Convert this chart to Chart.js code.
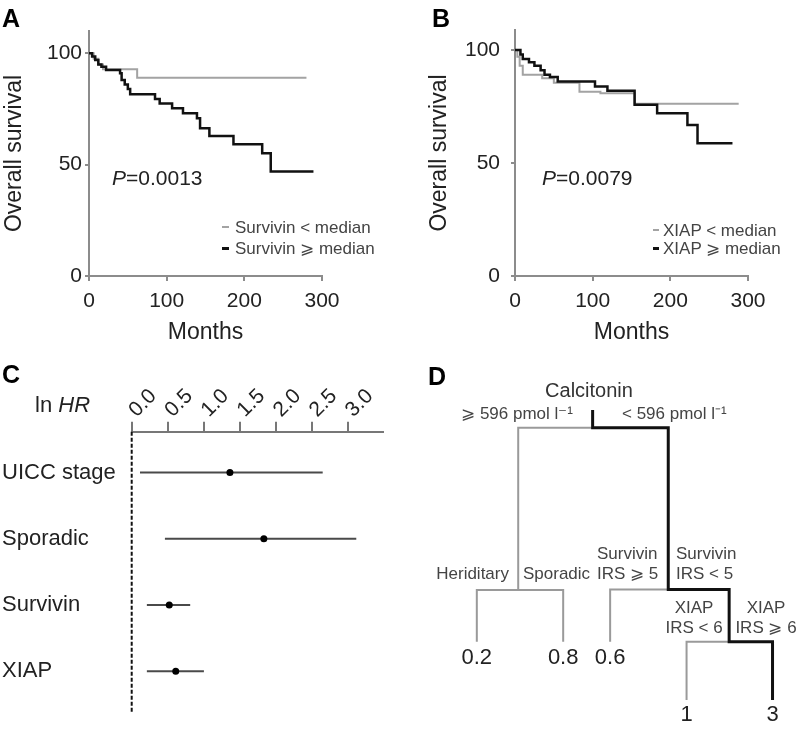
<!DOCTYPE html>
<html>
<head>
<meta charset="utf-8">
<script src="https://cdn.jsdelivr.net/npm/chart.js@4/dist/chart.umd.min.js"></script>
<style>
  body { margin: 0; background: #fff; width: 798px; height: 729px; position: relative; overflow: hidden;
         font-family: "Liberation Sans", Arial, sans-serif; color: #222; }
  canvas { position: absolute; }
  .t { position: absolute; white-space: nowrap; line-height: 1; }
  .c { transform: translate(-50%, -50%); }
  .l { transform: translate(0, -50%); }
  .r { transform: translate(-100%, -50%); }
  .panel { font-weight: bold; font-size: 25px; color: #000; }
  .dash { position: absolute; }
</style>
</head>
<body>
<canvas id="kmA" width="400" height="350" style="left:0;top:0"></canvas>
<canvas id="kmB" width="398" height="350" style="left:400px;top:0"></canvas>
<canvas id="forest" width="400" height="369" style="left:0;top:360px"></canvas>
<canvas id="tree" width="398" height="349" style="left:400px;top:380px"></canvas>

<div class="t panel" style="left:2px;top:6px">A</div>
<div class="t panel" style="left:432px;top:6px">B</div>
<div class="t panel" style="left:2px;top:362px">C</div>
<div class="t panel" style="left:428px;top:364px">D</div>

<div class="t l" style="left:112px;top:177px;font-size:21px"><i>P</i>=0.0013</div>
<div class="t l" style="left:542px;top:177px;font-size:21px"><i>P</i>=0.0079</div>

<div class="dash" style="left:222px;top:226px;width:7px;height:2px;background:#a3a3a3"></div>
<div class="t l" style="left:235px;top:227px;font-size:17px;color:#444">Survivin &lt; median</div>
<div class="dash" style="left:222px;top:247px;width:7px;height:3px;background:#111"></div>
<div class="t l" style="left:235px;top:248px;font-size:17px;color:#444">Survivin ⩾ median</div>

<div class="dash" style="left:653px;top:229px;width:6px;height:2px;background:#a3a3a3"></div>
<div class="t l" style="left:663px;top:230px;font-size:17px;color:#444">XIAP &lt; median</div>
<div class="dash" style="left:653px;top:247px;width:6px;height:3px;background:#111"></div>
<div class="t l" style="left:663px;top:248px;font-size:17px;color:#444">XIAP ⩾ median</div>

<div class="t l" style="left:35px;top:405px;font-size:22px">ln <i>HR</i></div>

<div class="t c" style="left:589px;top:390px;font-size:20px;color:#333">Calcitonin</div>
<div class="t r" style="left:573px;top:413px;font-size:17px;color:#444">⩾ 596 pmol l⁻¹</div>
<div class="t l" style="left:622px;top:413px;font-size:17px;color:#444">&lt; 596 pmol l⁻¹</div>
<div class="t r" style="left:509px;top:573px;font-size:17px;color:#444">Heriditary</div>
<div class="t l" style="left:523px;top:573px;font-size:17px;color:#444">Sporadic</div>
<div class="t l" style="left:597px;top:553px;font-size:17px;color:#444">Survivin</div>
<div class="t l" style="left:597px;top:573px;font-size:17px;color:#444">IRS ⩾ 5</div>
<div class="t l" style="left:676px;top:553px;font-size:17px;color:#444">Survivin</div>
<div class="t l" style="left:676px;top:573px;font-size:17px;color:#444">IRS &lt; 5</div>
<div class="t c" style="left:694px;top:607px;font-size:17px;color:#444">XIAP</div>
<div class="t c" style="left:694px;top:627px;font-size:17px;color:#444">IRS &lt; 6</div>
<div class="t c" style="left:766px;top:607px;font-size:17px;color:#444">XIAP</div>
<div class="t c" style="left:766px;top:627px;font-size:17px;color:#444">IRS ⩾ 6</div>

<script>
// Kaplan-Meier curves: event time (months) and survival (%) after it
const survivinLowMonths = [0, 6, 12, 18, 62, 280];
const survivinLowSurv = [100, 97.5, 95, 92.8, 89, 89];
const survivinHighMonths = [0, 4, 8, 12, 16, 22, 40, 42, 46, 50, 53, 85, 91, 107, 121, 139, 143, 155, 186, 223, 234, 289];
const survivinHighSurv = [100, 98.5, 97, 95, 94, 92.5, 91, 88, 86, 84, 81.6, 79.5, 77.5, 75.3, 73.1, 70.8, 66.3, 62.9, 59.1, 55.1, 46.9, 46.9];

const xiapLowMonths = [0, 3, 6, 10, 35, 50, 83, 110, 154, 288];
const xiapLowSurv = [100, 97, 93, 89, 87.5, 85.5, 81.5, 80.8, 76.2, 76.2];
const xiapHighMonths = [0, 7, 10, 18, 25, 33, 38, 45, 55, 103, 119, 154, 183, 222, 235, 280];
const xiapHighSurv = [100, 98, 96, 94.5, 93, 91, 89, 88, 86, 83.8, 81.9, 75.7, 72, 66.8, 58.7, 58.7];

const monthTicks = [0, 100, 200, 300];
const survivalTicks = [0, 50, 100];

// Cox model: ln HR with interval
const hrRows = ['UICC stage', 'Sporadic', 'Survivin', 'XIAP'];
const lnHR = [1.36, 1.83, 0.52, 0.61];
const lnHRLow = [0.115, 0.46, 0.21, 0.21];
const lnHRHigh = [2.645, 3.11, 0.81, 1.0];
const lnHRTicks = [0, 0.5, 1, 1.5, 2, 2.5, 3];

// regression tree, node coordinates in tree units (0-100 across, 0-100 down)
const treeGrayPaths = [
  [[48.4, 13.7], [29.7, 13.7], [29.7, 60.2]],
  [[19.3, 75], [19.3, 60.2], [41, 60.2], [41, 75]],
  [[52.8, 75], [52.8, 60], [67.4, 60]],
  [[72, 91.7], [72, 75], [82.7, 75]]
];
const treeBlackPath = [[48.4, 8.6], [48.4, 13.7], [67.4, 13.7], [67.4, 60], [82.7, 60], [82.7, 75], [93.6, 75], [93.6, 91.7]];
const leafValues = ['0.2', '0.8', '0.6', '1', '3'];
const leafX = [19.3, 41, 52.8, 72, 93.6];
const leafY = [79.7, 79.7, 79.7, 96, 96];

const FONT = '"Liberation Sans", Arial, sans-serif';
const axisGray = '#8c8c8c';
const pts = (xs, ys) => xs.map((v, i) => ({x: v, y: ys[i]}));

function kmChart(id, lowM, lowS, highM, highS, pad, yWidth, yMax, tickPad) {
    return new Chart(document.getElementById(id), {
        type: 'scatter',
        data: {
            datasets: [
                {data: pts(highM, highS), showLine: true, stepped: 'before', borderColor: '#111', borderWidth: 2.5, pointRadius: 0},
                {data: pts(lowM, lowS), showLine: true, stepped: 'before', borderColor: '#a3a3a3', borderWidth: 2, pointRadius: 0}
            ]
        },
        options: {
            responsive: false,
            animation: false,
            layout: {padding: pad},
            plugins: {legend: {display: false}, tooltip: {enabled: false}},
            scales: {
                x: {
                    type: 'linear', min: 0, max: 300,
                    afterBuildTicks: s => { s.ticks = monthTicks.map(v => ({value: v})); },
                    afterFit: s => { s.height = 74; },
                    grid: {drawOnChartArea: false, tickLength: 5, color: axisGray, lineWidth: 2},
                    border: {color: axisGray, width: 2},
                    ticks: {font: {size: 21, family: FONT}, color: '#222', padding: 8, maxRotation: 0},
                    title: {display: true, text: 'Months', font: {size: 23, family: FONT}, color: '#222', padding: {top: 0, bottom: 4}}
                },
                y: {
                    min: 0, max: yMax,
                    afterBuildTicks: s => { s.ticks = survivalTicks.map(v => ({value: v})); },
                    afterFit: s => { s.width = yWidth; },
                    grid: {drawOnChartArea: false, tickLength: 4, color: axisGray, lineWidth: 2},
                    border: {color: axisGray, width: 2},
                    ticks: {font: {size: 21, family: FONT}, color: '#222', padding: tickPad},
                    title: {display: true, text: 'Overall survival', font: {size: 23, family: FONT}, color: '#222', padding: {top: 1, bottom: 0}}
                }
            }
        }
    });
}

kmChart('kmA', survivinLowMonths, survivinLowSurv, survivinHighMonths, survivinHighSurv,
    {left: 0, top: 31, right: 78, bottom: 0}, 89, 110, 3);
kmChart('kmB', xiapLowMonths, xiapLowSurv, xiapHighMonths, xiapHighSurv,
    {left: 25, top: 30, right: 50, bottom: 0}, 90, 108.8, 11);

// forest plot: slanted tick labels written above the top axis
const slantedTicks = {
    id: 'slantedTicks',
    afterDraw(chart) {
        const {ctx, scales: {x}} = chart;
        ctx.save();
        ctx.font = '21px ' + FONT;
        ctx.fillStyle = '#222';
        ctx.textAlign = 'left';
        ctx.textBaseline = 'alphabetic';
        lnHRTicks.forEach(v => {
            ctx.save();
            ctx.translate(x.getPixelForValue(v) + 5, x.bottom - 14);
            ctx.rotate(-Math.PI / 4);
            ctx.fillText(v.toFixed(1), 0, 0);
            ctx.restore();
        });
        ctx.restore();
    }
};

const yMinC = 0.384, yMaxC = 4.626;
new Chart(document.getElementById('forest'), {
    type: 'scatter',
    data: {
        datasets: [
            {data: hrRows.map((r, i) => ({x: lnHR[i], y: i + 1})), pointRadius: 3.5, pointBackgroundColor: '#000', pointBorderWidth: 0},
            ...hrRows.map((r, i) => ({
                data: [{x: lnHRLow[i], y: i + 1}, {x: lnHRHigh[i], y: i + 1}],
                showLine: true, borderColor: '#4a4a4a', borderWidth: 2, pointRadius: 0
            })),
            // reference line at ln HR = 0
            {data: [{x: 0, y: yMinC}, {x: 0, y: yMaxC}], showLine: true, clip: 4,
             borderColor: '#111', borderWidth: 2, borderDash: [4, 2], pointRadius: 0}
        ]
    },
    options: {
        responsive: false,
        animation: false,
        layout: {padding: {left: 2, top: 0, right: 17, bottom: 6}},
        plugins: {legend: {display: false}, tooltip: {enabled: false}},
        scales: {
            x: {
                type: 'linear', position: 'top', min: 0, max: 3.48,
                afterBuildTicks: s => { s.ticks = lnHRTicks.map(v => ({value: v})); },
                afterFit: s => { s.height = 71.7; },
                grid: {drawOnChartArea: false, tickLength: 10, color: '#777', lineWidth: 2},
                border: {color: '#777', width: 2},
                ticks: {display: false}
            },
            y: {
                type: 'linear', min: yMinC, max: yMaxC, reverse: true,
                afterBuildTicks: s => { s.ticks = hrRows.map((r, i) => ({value: i + 1})); },
                afterFit: s => { s.width = 129.7; },
                grid: {display: false},
                border: {display: false},
                ticks: {crossAlign: 'far', callback: (v, i) => hrRows[i],
                        font: {size: 22, family: FONT}, color: '#222'}
            }
        }
    },
    plugins: [slantedTicks]
});

// tree: leaf values written under the leaves
const leafText = {
    id: 'leafText',
    afterDatasetsDraw(chart) {
        const {ctx, scales: {x, y}} = chart;
        ctx.save();
        ctx.fillStyle = '#222';
        ctx.font = '22px ' + FONT;
        ctx.textAlign = 'center';
        ctx.textBaseline = 'middle';
        leafValues.forEach((v, i) => ctx.fillText(v, x.getPixelForValue(leafX[i]), y.getPixelForValue(leafY[i])));
        ctx.restore();
    }
};

new Chart(document.getElementById('tree'), {
    type: 'scatter',
    data: {
        datasets: [
            {data: treeBlackPath.map(([x, y]) => ({x, y})), showLine: true, borderColor: '#111', borderWidth: 3, pointRadius: 0},
            ...treeGrayPaths.map(p => ({
                data: p.map(([x, y]) => ({x, y})),
                showLine: true, borderColor: '#9a9a9a', borderWidth: 2, pointRadius: 0
            }))
        ]
    },
    options: {
        responsive: false,
        animation: false,
        layout: {padding: 0},
        plugins: {legend: {display: false}, tooltip: {enabled: false}},
        scales: {
            x: {type: 'linear', min: 0, max: 100, display: false},
            y: {type: 'linear', min: 0, max: 100, reverse: true, display: false}
        }
    },
    plugins: [leafText]
});
</script>
</body>
</html>
